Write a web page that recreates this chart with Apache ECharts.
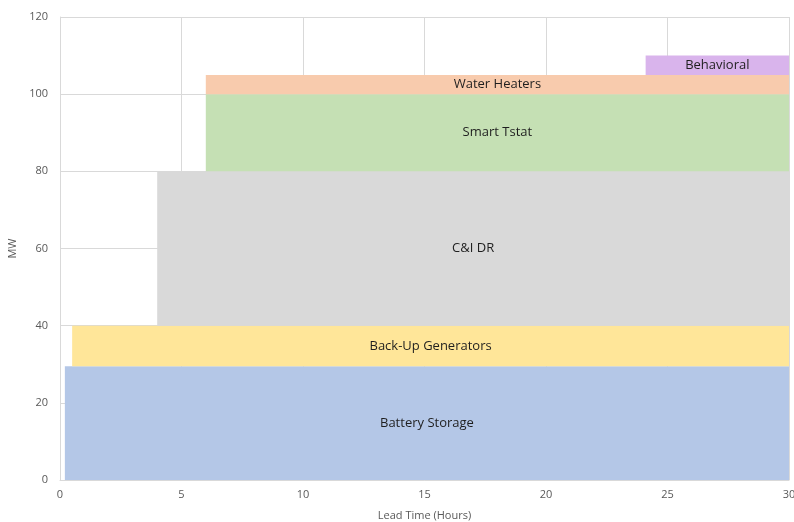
<!DOCTYPE html>
<html>
<head>
<meta charset="utf-8">
<script src="https://cdn.jsdelivr.net/npm/echarts@6/dist/echarts.min.js"></script>
<style>
  html, body { margin: 0; padding: 0; background: #fff; }
  #chart { width: 794px; height: 522px; }
</style>
</head>
<body>
<div id="chart"></div>
<script>
// Resource blocks: each spans a lead-time range (hours) and a stacked MW band.
const resources = ['Battery Storage', 'Back-Up Generators', 'C&I DR', 'Smart Tstat', 'Water Heaters', 'Behavioral'];
const leadStart = [0.2, 0.5, 4, 6, 6, 24.1];
const leadEnd   = [30, 30, 30, 30, 30, 30];
const mwLow     = [0, 29.5, 40, 80, 100, 105];
const mwHigh    = [29.5, 40, 80, 100, 105, 110];
const fills     = ['#b4c7e7', '#ffe699', '#d9d9d9', '#c5e0b4', '#f8cbad', '#d9b4ec'];

const xTicks = [0, 5, 10, 15, 20, 25, 30];
const yTicks = [0, 20, 40, 60, 80, 100, 120];

const rows = resources.map((name, i) => [leadStart[i], leadEnd[i], mwLow[i], mwHigh[i], name]);

const chart = echarts.init(document.getElementById('chart'), null, { renderer: 'canvas' });
const family = 'Open Sans, Liberation Sans, sans-serif';
const axisFont = { color: '#595959', fontSize: 11, fontFamily: family };

chart.setOption({
  animation: false,
  grid: { left: 60, right: 5, top: 17, bottom: 42, containLabel: false, outerBoundsMode: 'none' },
  xAxis: {
    type: 'value', min: xTicks[0], max: xTicks[xTicks.length - 1], interval: 5,
    name: 'Lead Time (Hours)', nameLocation: 'middle', nameGap: 30,
    nameTextStyle: axisFont,
    axisLine: { show: true, lineStyle: { color: '#d9d9d9' } },
    axisTick: { show: false },
    axisLabel: Object.assign({ margin: 9 }, axisFont),
    splitLine: { show: true, lineStyle: { color: '#d9d9d9', width: 1 } }
  },
  yAxis: {
    type: 'value', min: yTicks[0], max: yTicks[yTicks.length - 1], interval: 20,
    name: 'MW', nameLocation: 'middle', nameGap: 42, nameRotate: 90,
    nameMoveOverlap: false,
    nameTextStyle: axisFont,
    axisLine: { show: true, lineStyle: { color: '#d9d9d9' } },
    axisTick: { show: false },
    axisLabel: Object.assign({ margin: 12 }, axisFont),
    splitLine: { show: true, lineStyle: { color: '#d9d9d9', width: 1 } }
  },
  series: [{
    type: 'custom',
    data: rows,
    encode: { x: [0, 1], y: [2, 3] },
    renderItem: function (params, api) {
      const p0 = api.coord([api.value(0), api.value(3)]);
      const p1 = api.coord([api.value(1), api.value(2)]);
      const idx = params.dataIndex;
      return {
        type: 'rect',
        shape: { x: p0[0], y: p0[1], width: p1[0] - p0[0], height: p1[1] - p0[1] },
        style: { fill: fills[idx] },
        textContent: {
          style: {
            text: resources[idx],
            fill: '#1f1f1f',
            fontSize: 13,
            fontFamily: family
          }
        },
        textConfig: { position: 'inside' }
      };
    }
  }]
});
</script>
</body>
</html>
